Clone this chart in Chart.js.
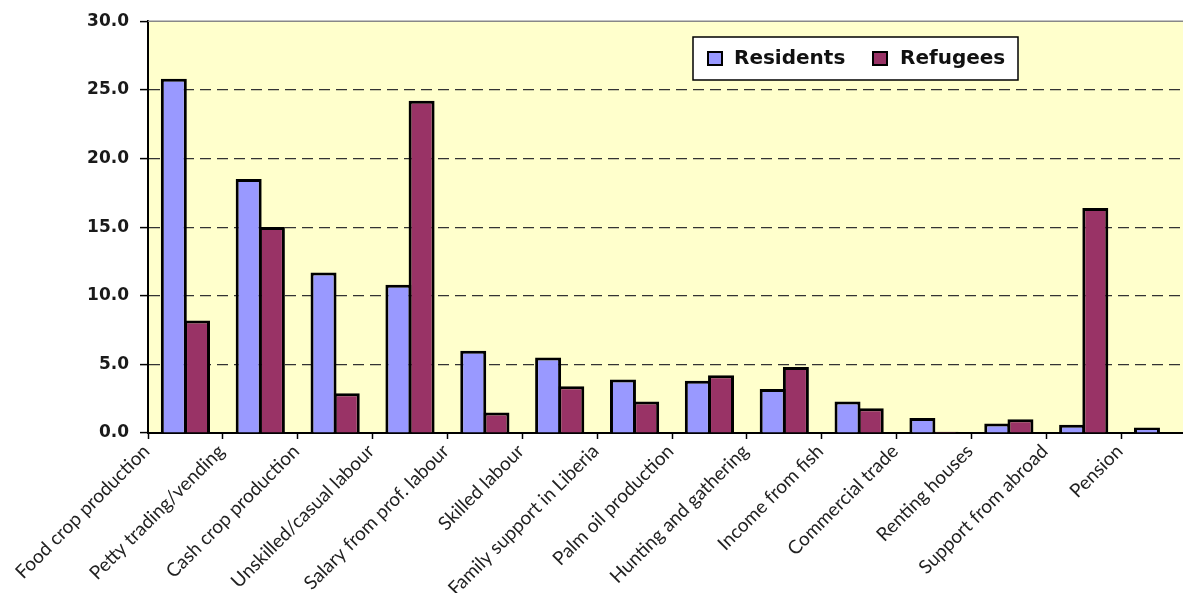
<!DOCTYPE html>
<html>
<head>
<meta charset="utf-8">
<script src="https://cdn.jsdelivr.net/npm/chart.js@4.4.1/dist/chart.umd.min.js"></script>
<style>
  html, body { margin: 0; padding: 0; background: #fff; overflow: hidden; }
  #wrap { width: 1196px; height: 593px; }
</style>
</head>
<body>
<div id="wrap"><canvas id="myChart"></canvas></div>
<script>
// values
var categories = [
  'Food crop production', 'Petty trading/vending', 'Cash crop production',
  'Unskilled/casual labour', 'Salary from prof. labour', 'Skilled labour',
  'Family support in Liberia', 'Palm oil production', 'Hunting and gathering',
  'Income from fish', 'Commercial trade', 'Renting houses',
  'Support from abroad', 'Pension'
];
var residents = [25.8, 18.5, 11.7, 10.8, 6.0, 5.5, 3.9, 3.8, 3.2, 2.3, 1.1, 0.7, 0.6, 0.4];
var refugees  = [8.2, 15.0, 2.9, 24.2, 1.5, 3.4, 2.3, 4.2, 4.8, 1.8, 0.1, 1.0, 16.4, 0];
var yTicks = [0, 5, 10, 15, 20, 25, 30];

var plotBg = {
  id: 'plotBg',
  beforeDraw: function (chart) {
    var a = chart.chartArea, ctx = chart.ctx;
    ctx.save();
    ctx.fillStyle = '#FFFFCC';
    ctx.fillRect(a.left, a.top, a.right - a.left, a.bottom - a.top);
    ctx.restore();
  },
  afterDraw: function (chart) {
    var a = chart.chartArea, ctx = chart.ctx;
    ctx.save();
    ctx.strokeStyle = '#888';
    ctx.lineWidth = 1.5;
    ctx.beginPath();
    ctx.moveTo(a.left, a.top);
    ctx.lineTo(a.right, a.top);
    ctx.stroke();

    // legend box
    var x = 693, y = 37, w = 325, h = 43;
    ctx.fillStyle = '#fff';
    ctx.fillRect(x, y, w, h);
    ctx.strokeStyle = '#000';
    ctx.lineWidth = 1.5;
    ctx.strokeRect(x, y, w, h);
    var items = [
      { label: 'Residents', color: '#9999FF', mx: 708, tx: 734 },
      { label: 'Refugees', color: '#993366', mx: 873, tx: 900 }
    ];
    ctx.font = 'bold 20px "DejaVu Sans"';
    ctx.textBaseline = 'middle';
    items.forEach(function (it) {
      ctx.fillStyle = it.color;
      ctx.fillRect(it.mx, 52, 14, 13);
      ctx.lineWidth = 2;
      ctx.strokeRect(it.mx, 52, 14, 13);
      ctx.fillStyle = '#111';
      ctx.fillText(it.label, it.tx, 59);
    });
    ctx.restore();
  }
};

var ctx = document.getElementById('myChart').getContext('2d');
var myChart = new Chart(ctx, {
  type: 'bar',
  data: {
    labels: categories,
    datasets: [{
      label: 'Residents',
      data: residents,
      backgroundColor: '#9999FF',
      borderColor: '#000',
      borderWidth: 3,
      inflateAmount: 0
    }, {
      label: 'Refugees',
      data: refugees,
      backgroundColor: '#993366',
      borderColor: '#000',
      borderWidth: 3,
      inflateAmount: 0
    }]
  },
  options: {
    responsive: true,
    maintainAspectRatio: false,
    animation: false,
    categoryPercentage: 0.62,
    barPercentage: 1.12,
    layout: { padding: { top: 19, left: 0, right: 0, bottom: 0 } },
    plugins: {
      legend: { display: false },
      tooltip: { enabled: false }
    },
    scales: {
      x: {
        grid: {
          drawOnChartArea: false,
          drawTicks: true,
          tickLength: 6,
          tickColor: '#000',
          tickWidth: 1.5
        },
        border: { color: '#000', width: 2 },
        ticks: {
          autoSkip: false,
          minRotation: 45,
          maxRotation: 45,
          labelOffset: -39,
          padding: 1,
          color: '#222',
          font: { family: 'Lato', size: 19 }
        },
        afterFit: function (scale) { scale.height = 160; }
      },
      y: {
        min: 0,
        max: 30,
        afterBuildTicks: function (scale) {
          scale.ticks = yTicks.map(function (v) { return { value: v }; });
        },
        grid: {
          color: function (c) {
            var v = c.tick ? c.tick.value : null;
            return (v === 0 || v === 30) ? 'rgba(0,0,0,0)' : '#333';
          },
          lineWidth: 1.2,
          tickLength: 8,
          tickColor: '#000',
          tickWidth: 1.5
        },
        border: { color: '#000', width: 2, dash: [11, 6] },
        ticks: {
          padding: 11,
          color: '#1a1a1a',
          font: { family: 'DejaVu Sans', size: 17, weight: 'bold' },
          callback: function (v) { return Number(v).toFixed(1); }
        },
        afterFit: function (scale) { scale.width = 148; }
      }
    }
  },
  plugins: [plotBg]
});
</script>
</body>
</html>
